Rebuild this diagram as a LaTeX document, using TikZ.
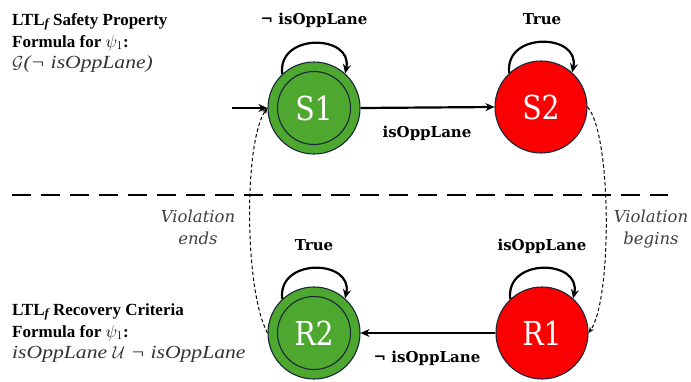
\documentclass[tikz,border=0pt]{standalone}
\usepackage{fontspec}
\setmainfont{Liberation Serif}
\newfontfamily\slab[FakeStretch=0.86]{DejaVu Serif}
\newfontfamily\slabb{DejaVu Serif}
\newfontfamily\formfont[FakeStretch=1.17]{Liberation Serif}
\usetikzlibrary{arrows.meta}
\definecolor{accgreen}{RGB}{78,167,46}
\definecolor{rejred}{RGB}{250,0,0}
\definecolor{rim}{RGB}{24,40,56}
\newcommand{\ltlsub}{\raisebox{-0.3ex}{\fontsize{12.5}{12.5}\selectfont\itshape f}}
\tikzset{
  state/.style={circle, minimum size=92pt, inner sep=0pt, draw=rim, line width=1.1pt,
    text=white, font=\slab\fontsize{33}{33}\selectfont},
  goodstate/.style={state, fill=accgreen},
  badstate/.style={state, fill=rejred},
  innerring/.style={draw=rim, line width=1.1pt},
  trans/.style={line width=2.2pt, -{Stealth[length=9pt,width=8pt]}},
  selfloop/.style={line width=2.2pt, -{Stealth[length=9pt,width=8pt]}},
  switchline/.style={line width=1pt, dash pattern=on 3.5pt off 2.5pt, -{Stealth[length=6pt,width=5pt]}},
  edgelbl/.style={font=\slabb\bfseries\fontsize{15}{15}\selectfont, anchor=base, inner sep=0pt},
  notelbl/.style={font=\slabb\itshape\fontsize{16.5}{16.5}\selectfont, text=black!75, anchor=base, inner sep=0pt},
  titlelbl/.style={font=\bfseries\fontsize{17}{17}\selectfont, anchor=base west, inner sep=0pt},
  formlbl/.style={font=\formfont\itshape\fontsize{18.5}{18.5}\selectfont, text=black!80, anchor=base west, inner sep=0pt}
}
\begin{document}
\begin{tikzpicture}[x=1pt, y=-1pt]
\useasboundingbox (0,0) rectangle (691,381);

% states
\node[goodstate] (S1) at (314,108) {S1};
\node[badstate]  (S2) at (541,107) {S2};
\node[goodstate] (R2) at (314,333) {R2};
\node[badstate]  (R1) at (542,333) {R1};
\draw[innerring] (S1.center) circle (36.5pt);
\draw[innerring] (R2.center) circle (36.5pt);

% initial arrow
\coordinate (init) at (232,108);
\draw[trans] (init) -- (S1.west);

% transitions between states
\draw[trans] (S1.east) -- (S2.west);
\draw[trans] (R1.west) -- (R2.east);
\node[edgelbl] (lS12) at (427,137) {isOppLane};
\node[edgelbl] (lR12) at (427,362) {¬ isOppLane};

% self loops (y axis points down, so upward directions have negative angles)
\draw[selfloop] (S1.133) .. controls +(-97:42) and +(-78:40) .. (S1.48);
\draw[selfloop] (S2.133) .. controls +(-97:42) and +(-78:40) .. (S2.48);
\draw[selfloop] (R2.133) .. controls +(-97:42) and +(-78:40) .. (R2.48);
\draw[selfloop] (R1.133) .. controls +(-97:42) and +(-78:40) .. (R1.48);
\node[edgelbl] (lS1) at (314,24) {¬ isOppLane};
\node[edgelbl] (lS2) at (542,24) {True};
\node[edgelbl] (lR2) at (314,250) {True};
\node[edgelbl] (lR1) at (542,250) {isOppLane};

% separator
\coordinate (sepL) at (12,195);
\coordinate (sepR) at (668,195);
\draw[line width=2pt, dash pattern=on 19pt off 10pt] (sepL) -- (sepR);

% violation / recovery switches
\draw[switchline] (S2.east) .. controls (612,135) and (612,300) .. (R1.east);
\draw[switchline] (R2.west) .. controls (244,290) and (244,140) .. (S1.west);
\node[notelbl] (vb1) at (651,222) {Violation};
\node[notelbl] (vb2) at (651,244) {begins};
\node[notelbl] (ve1) at (198,222) {Violation};
\node[notelbl] (ve2) at (198,244) {ends};

% formulas
\node[titlelbl] (t1) at (12,25) {LTL\ltlsub\ Safety Property};
\node[titlelbl] (t2) at (12,47) {Formula for $\psi_1$:};
\node[formlbl]  (t3) at (12,68) {$\mathcal{G}$(¬ isOppLane)};
\node[titlelbl] (b1) at (12,315) {LTL\ltlsub\ Recovery Criteria};
\node[titlelbl] (b2) at (12,337) {Formula for $\psi_1$:};
\node[formlbl]  (b3) at (12,358) {isOppLane $\mathcal{U}$ ¬ isOppLane};
\end{tikzpicture}
\end{document}
